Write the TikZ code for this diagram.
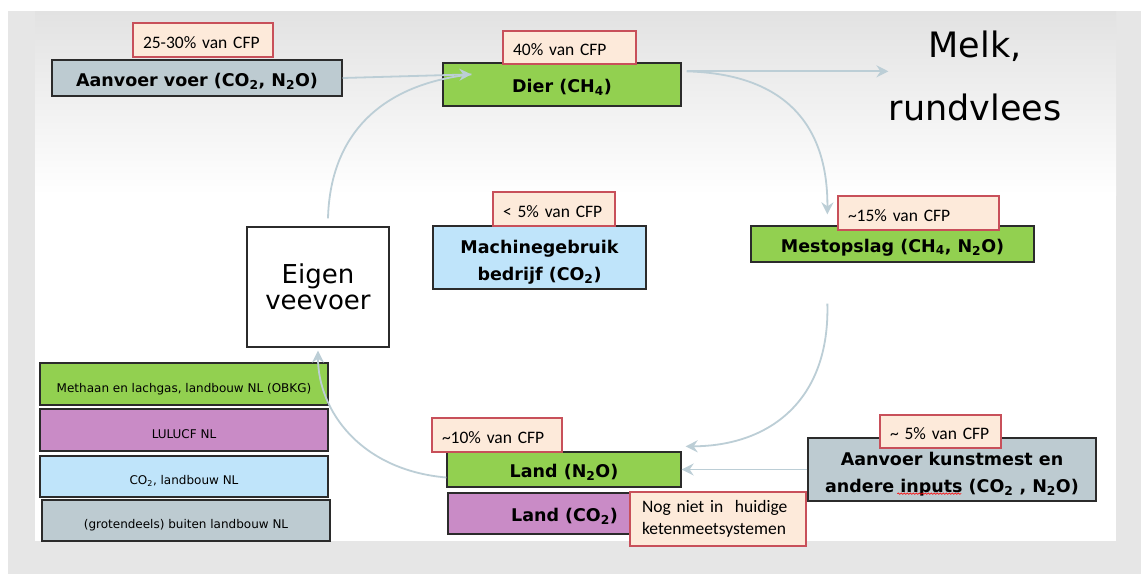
\documentclass[tikz,border=0pt]{standalone}
\usepackage{fontspec}
\setmainfont{DejaVu Sans}
\newfontfamily\calibri{Carlito}
\usetikzlibrary{arrows.meta,calc,decorations.pathmorphing}
\definecolor{screengray}{HTML}{E6E6E6}
\definecolor{slidetop}{HTML}{E2E2E2}
\definecolor{boxline}{HTML}{2B2B2B}
\definecolor{grasgreen}{HTML}{92D050}
\definecolor{lilac}{HTML}{C98BC6}
\definecolor{lightblue}{HTML}{BFE4FA}
\definecolor{greyblue}{HTML}{BDCBD1}
\definecolor{peach}{HTML}{FDEADA}
\definecolor{cfpred}{HTML}{C8505A}
\definecolor{flowgray}{HTML}{BCCED6}
\newcommand{\firstline}{\rule{0pt}{22pt}}

\begin{document}
\begin{tikzpicture}[x=1pt,y=-1pt]
	\tikzstyle{emission} = [draw=boxline, line width=1.3pt, inner sep=0pt, align=center, font=\bfseries\fontsize{17.5}{27}\selectfont]
	\tikzstyle{cfp} = [draw=cfpred, fill=peach, line width=1.3pt, inner xsep=10pt, inner ysep=0pt, align=left, font=\calibri\fontsize{17.5}{22}\selectfont]
	\tikzstyle{legend} = [draw=boxline, line width=1.3pt, minimum width=288pt, inner sep=0pt, font=\fontsize{12}{14}\selectfont]
	\tikzstyle{lowered} = [text height=16pt, text depth=0pt]
	\tikzstyle{flow} = [draw=flowgray, line width=1.8pt, -{Stealth[length=12pt,width=12pt,inset=4pt]}]
	\tikzstyle{flowline} = [draw=flowgray, line width=1.8pt]
	\useasboundingbox (0,0) rectangle (1141,574);
	\fill[screengray] (8,11) rectangle (1141,574);
	\shade[top color=slidetop, bottom color=white] (35,11) rectangle (1116,195);
	\fill[white] (35,195) rectangle (1116,541);

	\node[emission, lowered, fill=greyblue, minimum width=290pt, minimum height=36pt] (voer) at (197,78) {Aanvoer voer (CO\textsubscript{2}, N\textsubscript{2}O)};
	\node[emission, lowered, fill=grasgreen, minimum width=238pt, minimum height=43pt] (dier) at (562,84.5) {Dier (CH\textsubscript{4})};
	\node[emission, fill=lightblue, minimum width=213pt, minimum height=63pt] (mach) at (539.5,257.5) {\firstline Machinegebruik\\bedrijf (CO\textsubscript{2})};
	\node[emission, lowered, fill=grasgreen, minimum width=283pt, minimum height=36pt] (mest) at (892.5,244) {Mestopslag (CH\textsubscript{4}, N\textsubscript{2}O)};
	\node[emission, lowered, fill=grasgreen, minimum width=234pt, minimum height=35pt] (landn) at (564,469.5) {Land (N\textsubscript{2}O)};
	\node[emission, lowered, fill=lilac, minimum width=233pt, minimum height=41pt] (landc) at (564.5,513.5) {Land (CO\textsubscript{2})};
	\node[emission, fill=greyblue, minimum width=288pt, minimum height=63pt] (kunst) at (952,469.5) {\firstline Aanvoer kunstmest en\\andere inputs (CO\textsubscript{2} , N\textsubscript{2}O)};
	\node[draw=boxline, fill=white, line width=1.3pt, minimum width=142pt, minimum height=120pt, inner sep=0pt, align=center, font=\fontsize{26}{26}\selectfont] (eigen) at (318,287) {Eigen\\veevoer};
	\node[anchor=north, inner sep=0pt, align=center, font=\fontsize{35}{63}\selectfont] (melk) at (975,31) {Melk,\\rundvlees};

	\node[legend, lowered, fill=grasgreen, minimum height=42pt] (methaan) at (184,384) {Methaan en lachgas, landbouw NL (OBKG)};
	\node[legend, lowered, fill=lilac, minimum height=42pt] (lulucf) at (184,430) {LULUCF NL};
	\node[legend, lowered, fill=lightblue, minimum height=41pt] (co2nl) at (184,476.5) {CO\textsubscript{2}, landbouw NL};
	\node[legend, lowered, fill=greyblue, minimum height=41pt] (buiten) at (186,520.5) {(grotendeels) buiten landbouw NL};

	\node[cfp, lowered, text width=120pt, minimum height=34pt] (cfpvoer) at (203,40) {25-30\% van CFP};
	\node[cfp, lowered, text width=113pt, minimum height=33pt] (cfpdier) at (569.5,47.5) {40\% van CFP};
	\node[cfp, lowered, text width=102pt, minimum height=34pt] (cfpmach) at (554,209) {< 5\% van CFP};
	\node[cfp, lowered, text width=141pt, minimum height=34pt] (cfpmest) at (918.5,213) {\textasciitilde15\% van CFP};
	\node[cfp, lowered, text width=110pt, minimum height=34pt] (cfpland) at (497,435) {\textasciitilde10\% van CFP};
	\node[cfp, lowered, text width=101pt, minimum height=33pt] (cfpkunst) at (940.5,431.5) {\textasciitilde{} 5\% van CFP};
	\node[cfp, text width=152pt, minimum height=54pt, inner xsep=12pt] (note) at (718,519) {Nog niet in\ \ huidige\\ketenmeetsystemen};

	\coordinate (dierin) at ($(dier.north west)+(29,12)$);
	\coordinate (dierout) at ($(dier.north east)+(5,9)$);
	\draw[flowline] ($(eigen.north)+(10,-8)$) .. controls (330,140) and (375,85) .. (dierin);
	\draw[flow] (voer.east) -- (dierin);
	\draw[flow] (dierout) -- (dierout -| melk.west);
	\draw[flow] (dierout) .. controls (790,74) and (828,130) .. ($(mest.north west)+(77,-11)$);
	\draw[flow] ($(mest.south west)+(77,41)$) .. controls (830,400) and (770,446) .. ($(landn.north east)+(4,-5)$);
	\draw[flow] (kunst.west) -- (landn.east);
	\draw[flow] ($(landn.west)+(0,8)$) .. controls (360,470) and (318,410) .. ($(eigen.south)+(0,3)$);
	\draw[red, line width=0.6pt, decorate, decoration={snake, amplitude=0.7pt, segment length=3pt}] ($(kunst.south west)+(90,-8)$) -- ($(kunst.south west)+(154,-8)$);
\end{tikzpicture}
\end{document}
